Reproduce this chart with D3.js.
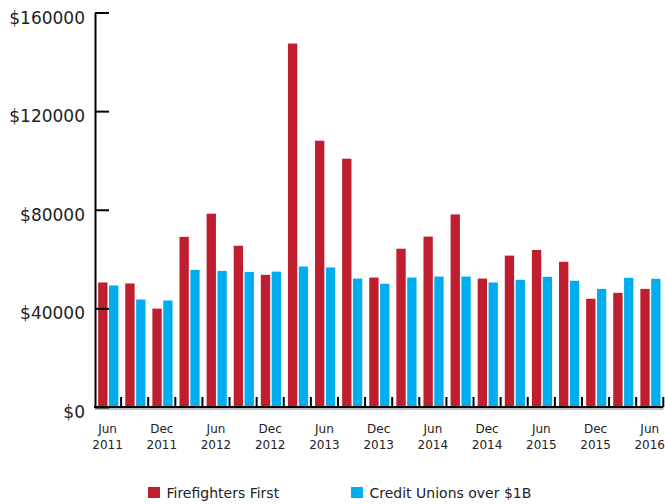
<!DOCTYPE html>
<html>
<head>
<meta charset="utf-8">
<script src="https://cdn.jsdelivr.net/npm/d3@7/dist/d3.min.js"></script>
<style>
  html, body { margin: 0; padding: 0; background: #fff; }
  svg { display: block; }
  text { font-family: "DejaVu Sans", sans-serif; fill: #222; }
</style>
</head>
<body>
<svg id="chart" width="665" height="504"></svg>
<script>
const periods = ["Jun 2011","Sep 2011","Dec 2011","Mar 2012","Jun 2012","Sep 2012","Dec 2012","Mar 2013","Jun 2013","Sep 2013","Dec 2013","Mar 2014","Jun 2014","Sep 2014","Dec 2014","Mar 2015","Jun 2015","Sep 2015","Dec 2015","Mar 2016","Jun 2016"];
const firefighters = [50500, 50100, 39900, 69000, 78400, 65400, 53600, 147400, 108000, 100700, 52500, 64200, 69100, 78100, 52100, 61400, 63700, 58900, 43900, 46300, 47900];
const creditUnions = [49300, 43600, 43200, 55600, 55200, 54800, 54900, 57000, 56600, 52100, 50000, 52500, 52900, 52900, 50500, 51600, 52800, 51200, 47900, 52400, 52000];
const seriesNames = ["Firefighters First", "Credit Unions over $1B"];
const seriesColors = ["#BE1E2D", "#00AEEF"];
const yTicks = [0, 40000, 80000, 120000, 160000];
const xLabelPeriods = ["Jun 2011","Dec 2011","Jun 2012","Dec 2012","Jun 2013","Dec 2013","Jun 2014","Dec 2014","Jun 2015","Dec 2015","Jun 2016"];

(function () {
const svg = d3.select("#chart");
const mLeft = 94, mRight = 663.3, mTop = 12.5, mBottom = 407;

const x0 = d3.scaleBand().domain(periods).range([mLeft, mRight]).padding(0);
const x1 = d3.scaleBand().domain(seriesNames).range([0, x0.bandwidth()])
  .paddingInner(0.14).paddingOuter(0.32).align(0.6);
const y = d3.scaleLinear().domain([0, 160000]).range([mBottom, mTop]);

const data = periods.map((p, i) => ({ period: p, values: [firefighters[i], creditUnions[i]] }));

// bars
const groups = svg.append("g").selectAll("g").data(data).join("g")
  .attr("transform", d => `translate(${x0(d.period)},0)`);
groups.selectAll("rect")
  .data(d => d.values.map((v, k) => ({ name: seriesNames[k], value: v, color: seriesColors[k] })))
  .join("rect")
  .attr("x", d => x1(d.name))
  .attr("width", x1.bandwidth())
  .attr("y", d => y(d.value))
  .attr("height", d => y(0) - y(d.value))
  .attr("fill", d => d.color);

// x axis: shadow line + black line + upward ticks at band boundaries
svg.append("line")
  .attr("x1", mLeft + 1).attr("x2", mRight).attr("y1", mBottom + 2).attr("y2", mBottom + 2)
  .attr("stroke", "#aaa").attr("stroke-width", 1.5);
svg.append("line")
  .attr("x1", mLeft).attr("x2", mRight).attr("y1", mBottom).attr("y2", mBottom)
  .attr("stroke", "#000").attr("stroke-width", 2);
svg.append("g").selectAll("line").data(periods).join("line")
  .attr("x1", d => x0(d) + x0.step()).attr("x2", d => x0(d) + x0.step())
  .attr("y1", mBottom).attr("y2", mBottom - 10)
  .attr("stroke", "#000").attr("stroke-width", 2);

// x labels
const xl = svg.append("g").selectAll("text").data(xLabelPeriods).join("text")
  .attr("text-anchor", "middle")
  .style("font-size", "12px");
xl.append("tspan").attr("x", d => x0(d) + x0.bandwidth() / 2).attr("y", 433).text(d => d.split(" ")[0]);
xl.append("tspan").attr("x", d => x0(d) + x0.bandwidth() / 2).attr("y", 449).text(d => d.split(" ")[1]);

// y axis
const yAxis = d3.axisLeft(y).tickValues(yTicks).tickSizeInner(-14).tickSizeOuter(0)
  .tickPadding(10).tickFormat(d => "$" + d);
const ya = svg.append("g").attr("transform", `translate(${mLeft + 1},0)`).call(yAxis);
ya.select(".domain").attr("stroke", "#000").attr("stroke-width", 2);
ya.selectAll(".tick line").attr("stroke", "#000").attr("stroke-width", 2);
ya.selectAll(".tick text")
  .attr("dy", null).attr("y", 10.5)
  .style("font-size", "17px").style("font-family", "'DejaVu Sans', sans-serif").attr("fill", "#222");

// legend
const legendX = [148, 351];
const leg = svg.append("g").selectAll("g").data(seriesNames).join("g")
  .attr("transform", (d, i) => `translate(${legendX[i]},487)`);
leg.append("rect").attr("width", 12).attr("height", 11).attr("fill", (d, i) => seriesColors[i]);
leg.append("text").attr("x", 18.5).attr("y", 11).style("font-size", "14px").text(d => d);
})();
</script>
</body>
</html>
